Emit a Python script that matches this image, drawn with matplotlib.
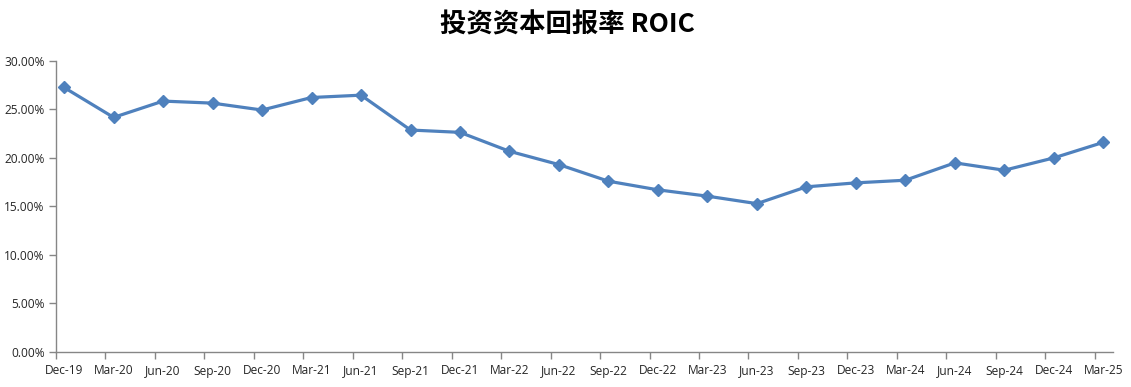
import matplotlib
matplotlib.use("Agg")
import matplotlib.pyplot as plt
from matplotlib.ticker import FuncFormatter, FixedLocator

plt.rcParams['font.family'] = ['Noto Sans CJK SC', 'DejaVu Sans']

# datos
trimestres = ["Dec-19", "Mar-20", "Jun-20", "Sep-20", "Dec-20", "Mar-21", "Jun-21",
              "Sep-21", "Dec-21", "Mar-22", "Jun-22", "Sep-22", "Dec-22", "Mar-23",
              "Jun-23", "Sep-23", "Dec-23", "Mar-24", "Jun-24", "Sep-24", "Dec-24",
              "Mar-25"]
roic = [27.24, 24.16, 25.84, 25.63, 24.92, 26.21, 26.45,
        22.86, 22.62, 20.67, 19.30, 17.59, 16.70, 16.05,
        15.28, 17.01, 17.42, 17.69, 19.48, 18.72, 19.99,
        21.59]

fig = plt.figure(figsize=(11.31, 3.87), dpi=100)
ax = fig.add_axes([55.7 / 1131, 35 / 387, 1057 / 1131, 291.3 / 387])

x = list(range(len(trimestres)))
ax.plot(x, roic, color="#4F81BD", linewidth=2.3, marker="D", markersize=5.8,
        markerfacecolor="#4F81BD", markeredgecolor="#4F81BD")

ax.set_ylim(0, 30)
ax.set_xlim(-0.17, 21.19)
ax.set_yticks([0, 5, 10, 15, 20, 25, 30])
ax.yaxis.set_major_formatter(FuncFormatter(lambda v, p: f"{v:.2f}%"))

# etiquetas en los puntos, marcas desplazadas a la izquierda
ax.set_xticks(x)
ax.set_xticklabels(trimestres)
ax.tick_params(axis="x", which="major", length=0, pad=9)
ax.xaxis.set_minor_locator(FixedLocator([i - 0.17 for i in x]))
ax.tick_params(axis="x", which="minor", length=5, color="#868686", width=1)
ax.tick_params(axis="y", length=5, color="#868686", width=1, pad=3)
ax.tick_params(labelcolor="#262626")
for lbl in ax.get_xticklabels() + ax.get_yticklabels():
    lbl.set_family(["Open Sans", "DejaVu Sans"])
    lbl.set_fontsize(8.6)

for s in ["top", "right"]:
    ax.spines[s].set_visible(False)
for s in ["left", "bottom"]:
    ax.spines[s].set_color("#868686")
    ax.spines[s].set_linewidth(1)

fig.text(0.502, 0.935, "投资资本回报率 ROIC", ha="center", va="center",
         fontsize=19, fontweight="bold", color="black")

fig.savefig("out.png", dpi=100)
